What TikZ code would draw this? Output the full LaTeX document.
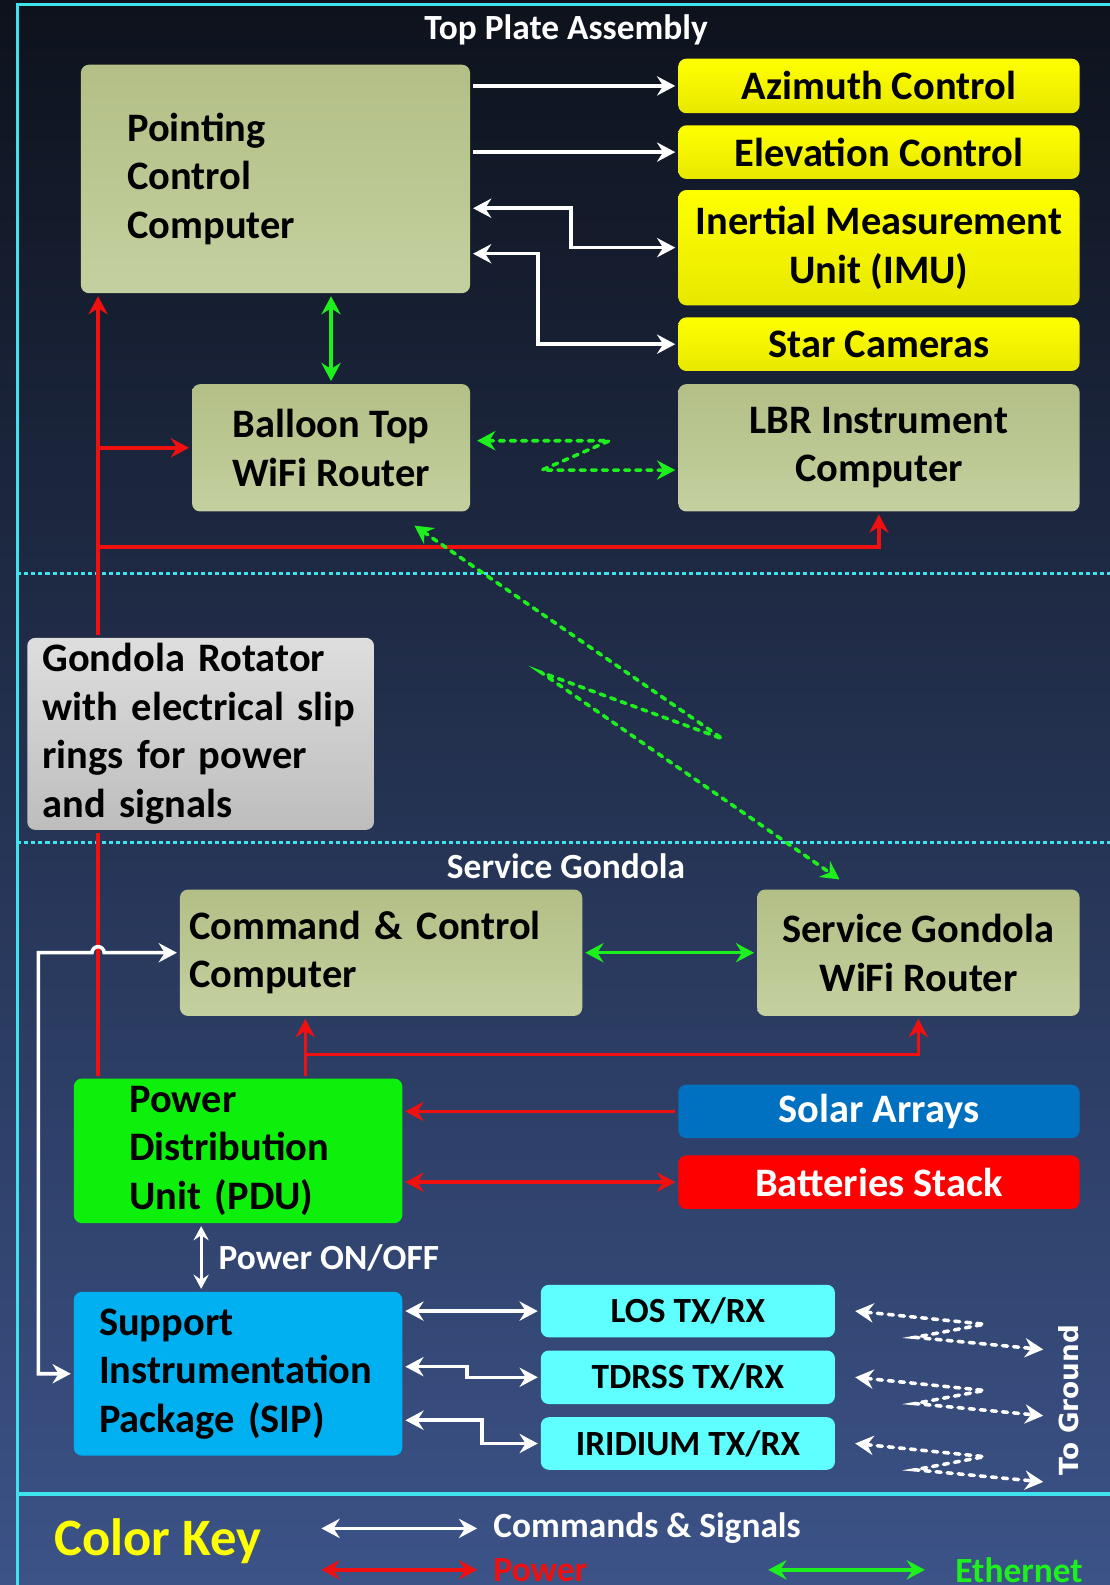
\documentclass[tikz,border=0pt]{standalone}
\usepackage{fontspec,xcolor,tikz}
\setmainfont{Carlito}
\newfontfamily\groundfont{DejaVu Sans}
\usetikzlibrary{arrows.meta,calc}
\definecolor{bgtop}{HTML}{0D121C}
\definecolor{bgmid}{HTML}{1E2A46}
\definecolor{bgbot}{HTML}{3C5388}
\definecolor{frame}{HTML}{3FE3EE}
\definecolor{olivetop}{HTML}{B3BF86}
\definecolor{olivebot}{HTML}{C4D09F}
\definecolor{yeltop}{HTML}{FFFF00}
\definecolor{yelbot}{HTML}{E8E800}
\definecolor{greytop}{HTML}{DEDEDE}
\definecolor{greybot}{HTML}{BDBDBD}
\definecolor{pdugreen}{HTML}{0CF00C}
\definecolor{sipblue}{HTML}{00B0F0}
\definecolor{txcyan}{HTML}{5FFFFF}
\definecolor{solarblue}{HTML}{0070C0}
\definecolor{battred}{HTML}{FF0000}
\definecolor{pwrred}{HTML}{F01010}
\definecolor{ethgreen}{HTML}{1EF01E}
\definecolor{keyyellow}{HTML}{FFFF00}
\newcommand{\boxfont}{\fontsize{40}{48}\selectfont\bfseries}
\newcommand{\smallfont}{\fontsize{35}{42}\selectfont\bfseries}
\newcommand{\keyfont}{\fontsize{52}{60}\selectfont\bfseries}
\tikzset{>={Stealth[length=18pt,width=19pt,inset=6pt]},
  box/.style={rounded corners=8pt,inner sep=0pt,outer sep=3pt,align=center,font=\boxfont,text=black},
  olive/.style={box,top color=olivetop,bottom color=olivebot},
  yel/.style={box,top color=yeltop,bottom color=yelbot,minimum width=397pt},
  txrx/.style={box,fill=txcyan,font=\smallfont,minimum width=291pt,minimum height=52pt},
  title/.style={font=\smallfont,text=white,inner sep=0pt},
  keytext/.style={font=\smallfont,anchor=west,inner sep=0pt},
  sect/.style={frame,line width=3pt,dash pattern=on 4pt off 3pt},
  sig/.style={white,line width=3.5pt},
  pwr/.style={pwrred,line width=3.5pt},
  eth/.style={ethgreen,line width=3.5pt},
  wifi/.style={ethgreen,line width=3.5pt,line cap=round,dash pattern=on 5pt off 6pt},
  gnd/.style={white,line width=3.5pt,line cap=round,dash pattern=on 5pt off 6pt}}
\begin{document}
\begin{tikzpicture}[x=1pt,y=-1pt]
\useasboundingbox (0,0) rectangle (1098,1568);
\shade[top color=bgtop,middle color=bgmid,bottom color=bgbot] (0,0) rectangle (1098,1568);
% frame and section lines
\draw[frame,line width=3pt] (17,1568) -- (17,4) -- (1098,4);
\draw[frame,line width=4pt] (17,1478) -- (1098,1478);
\draw[sect] (17,567) -- (1098,567);
\draw[sect] (17,833) -- (1098,833);
\node[title] (toptitle) at (560,30) {Top Plate Assembly};
\node[title] (sgtitle) at (560,857) {Service Gondola};

% top plate
\node[olive,minimum height=226pt,text width=293pt,inner xsep=46pt,align=left] (pcc) at (272.5,177) {Pointing\\Control\\Computer};
\node[yel,minimum height=54pt] (az) at (869.5,85) {Azimuth Control};
\node[yel,minimum height=53pt] (el) at (869.5,150.5) {Elevation Control};
\node[yel,minimum height=114pt] (imu) at (869.5,245) {Inertial Measurement\\Unit (IMU)};
\node[yel,minimum height=53pt] (star) at (869.5,340.5) {Star Cameras};
\node[olive,minimum width=275pt,minimum height=126pt] (btr) at (327.5,443) {Balloon Top\\WiFi Router};
\node[olive,minimum width=397pt,minimum height=126pt] (lbr) at (869.5,443) {LBR Instrument\\Computer};

% rotator
\node[box,top color=greytop,bottom color=greybot,minimum height=190pt,text width=313pt,inner xsep=15pt,align=left] (rot) at (198.5,726) {Gondola Rotator\\with electrical slip\\rings for power\\and signals};

% service gondola
\node[olive,minimum height=125pt,text width=380pt,inner xsep=9pt,align=left] (cc) at (377,942.5) {Command \& Control\\Computer};
\node[olive,minimum width=319pt,minimum height=125pt] (sgr) at (908.5,942.5) {Service Gondola\\WiFi Router};
\node[box,fill=pdugreen,minimum height=143pt,text width=215pt,inner xsep=55pt,align=left] (pdu) at (235.5,1138.5) {Power\\Distribution\\Unit (PDU)};
\node[box,fill=solarblue,text=white,minimum width=397pt,minimum height=53pt] (solar) at (869.5,1099.5) {Solar Arrays};
\node[box,fill=battred,text=white,minimum width=397pt,minimum height=53pt] (batt) at (869.5,1169.5) {Batteries Stack};
\node[box,fill=sipblue,minimum height=162pt,text width=275pt,inner xsep=25pt,align=left] (sip) at (235.5,1359) {Support\\Instrumentation\\Package (SIP)};
\node[txrx] (los) at (680.5,1297) {LOS TX/RX};
\node[txrx,minimum height=53pt] (tdrss) at (680.5,1362.5) {TDRSS TX/RX};
\node[txrx] (irid) at (680.5,1428) {IRIDIUM TX/RX};
\node[title,anchor=west] (onoff) at (216,1244) {Power ON/OFF};
\node[rotate=90,text=white,inner sep=0pt,font=\groundfont\fontsize{26}{30}\selectfont\bfseries] (ground) at (1057,1385) {To Ground};

% commands and signals
\draw[sig,->] (pcc.east |- az.west) -- (az.west);
\draw[sig,->] (pcc.east |- el.west) -- (el.west);
\draw[sig,<->] (imu.west) -- ++(-103,0) |- (pcc.east |- 0,206);
\draw[sig,<->] (star.west) -- ++(-136,0) |- (pcc.east |- 0,251);
\draw[sig,<->] (sip.east |- los.west) -- (los.west);
\draw[sig,<->] (tdrss.west) -- ++(-70,0) |- (sip.east |- 0,1352);
\draw[sig,<->] (irid.west) -- ++(-55,0) |- (sip.east |- 0,1405);
\coordinate (sw) at (199,0);
\draw[white,line width=3pt,{Stealth[length=14pt,width=15pt,inset=5pt]}-{Stealth[length=14pt,width=15pt,inset=5pt]}] (pdu.south -| sw) -- (sip.north -| sw);

% power
\coordinate (rail) at (97,0);
\coordinate (pbus) at (0,541);
\coordinate (cctap) at (302,1043);
\coordinate (cmdbus) at (38,0);
\draw[pwr] (pdu.north -| rail) -- (rot.south -| rail);
\draw[pwr,->] (rot.north -| rail) -- (pcc.south -| rail);
\draw[pwr,->] (btr.west -| rail) -- (btr.west);
\draw[pwr,->] (rail |- pbus) -| (lbr.south);
\draw[pwr,->] (pdu.north -| cctap) -- (cc.south -| cctap);
\draw[pwr,->] (cctap) -| (sgr.south);
\draw[pwr,->] (solar.west) -- (solar.west -| pdu.east);
\draw[pwr,<->] (batt.west) -- (batt.west -| pdu.east);

% command line with hop over the rail
\draw[sig,<->] (sip.west) -- (sip.west -| cmdbus) |- ([xshift=-6pt]cc.west -| rail) arc(180:360:6) -- (cc.west);

% ethernet and wifi
\draw[eth,<->] (pcc.south -| btr.north) -- (btr.north);
\draw[eth,<->] (cc.east) -- (sgr.west);
\draw[wifi,<->,shorten <=4pt] (btr.east |- 0,436) -- (603,436) -- (536,465) -- (lbr.west |- 0,465);
\draw[wifi,<->] ($(btr.south)+(82.5,11)$) -- (715,731) -- (535,665) -- ($(sgr.north)+(-78,-7)$);
\foreach \b in {los,tdrss,irid}
  \draw[gnd,<->] ($(\b.east)+(17,0)$) -- ++(128,13) -- ++(-69,13) -- ++(127,12);

% color key
\node[font=\keyfont,text=keyyellow,inner sep=0pt] (colorkey) at (156,1525) {Color Key};
\node[keytext,text=white] (kcmd) at (488,1512) {Commands \& Signals};
\node[keytext,text=pwrred] (kpwr) at (488,1553) {Power};
\node[keytext,text=ethgreen] (keth) at (945,1553) {Ethernet};
\draw[sig,<->] ([xshift=-170pt]kcmd.west) -- ([xshift=-16pt]kcmd.west);
\draw[pwr,<->] ([xshift=-170pt]kpwr.west) -- ([xshift=-16pt]kpwr.west);
\draw[eth,<->] ([xshift=-185pt]keth.west) -- ([xshift=-30pt]keth.west);
\end{tikzpicture}
\end{document}
